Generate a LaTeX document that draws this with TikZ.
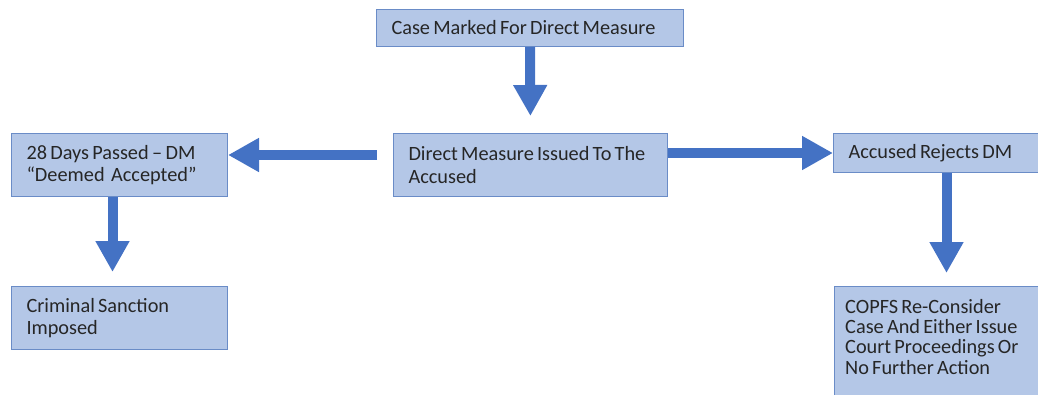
\documentclass[tikz,border=0pt]{standalone}
\usepackage{fontspec}
\setmainfont{Carlito}[WordSpace=0.7]
\usetikzlibrary{arrows.meta,calc}
\definecolor{boxfill}{HTML}{B4C7E7}
\definecolor{boxline}{HTML}{6A8CC7}
\definecolor{arrowblue}{HTML}{4472C4}
\definecolor{inktext}{HTML}{262626}
\begin{document}
\begin{tikzpicture}[x=1pt,y=-1pt,
  stagebox/.style={draw=boxline, line width=1pt, fill=boxfill, rectangle,
    anchor=north west, inner xsep=15pt, inner ysep=0pt, align=flush left,
    font=\fontsize{20.3}{22.5}\selectfont, text=inktext},
  stagetext/.style={anchor=north west, inner sep=0pt, align=flush left,
    font=\fontsize{20.3}{20.3}\selectfont, text=inktext},
  blockarrow/.style={draw=arrowblue, line width=10pt,
    -{Triangle[length=31pt,width=32pt]}}]
\useasboundingbox (0,0) rectangle (1038,394);

% stages of the process
\node[stagebox, minimum width=307pt, minimum height=37pt, text width=277pt] (case) at (376,9)
  {Case Marked For Direct Measure};
\node[stagebox, minimum width=274pt, minimum height=63pt, text width=244pt] (issued) at (393,133)
  {Direct Measure Issued To The\\Accused};
\node[stagebox, minimum width=216pt, minimum height=63pt, text width=186pt] (deemed) at (11,133)
  {28 Days Passed\,--\,DM\\``Deemed\ \ Accepted''};
\node[stagebox, minimum width=220pt, minimum height=39pt, text width=190pt] (rejects) at (833,133)
  {Accused Rejects DM};
\node[stagebox, minimum width=216pt, minimum height=63pt, text width=186pt] (sanction) at (11,286)
  {Criminal Sanction\\Imposed};
\node[stagebox, minimum width=220pt, minimum height=130pt] (copfs) at (834,286) {};
\node[stagetext] (copfstext) at ([xshift=11pt,yshift=-13pt]copfs.north west)
  {COPFS Re-Consider\\Case And Either Issue\\Court Proceedings Or\\No Further Action};

% connectors
\draw[blockarrow, shorten >=17pt] (case.south) -- (issued.north);
\draw[blockarrow, shorten <=16pt] ([yshift=10pt]issued.west) -- ([yshift=10pt]deemed.east);
\draw[blockarrow] ([yshift=12pt]issued.east) -- (rejects.west);
\draw[blockarrow, shorten >=14pt] ([xshift=-7pt]deemed.south) -- ([xshift=-7pt]sanction.north);
\draw[blockarrow, shorten >=13pt] ([xshift=3pt]rejects.south) -- ([xshift=3pt]rejects.south |- copfs.north);
\end{tikzpicture}
\end{document}
